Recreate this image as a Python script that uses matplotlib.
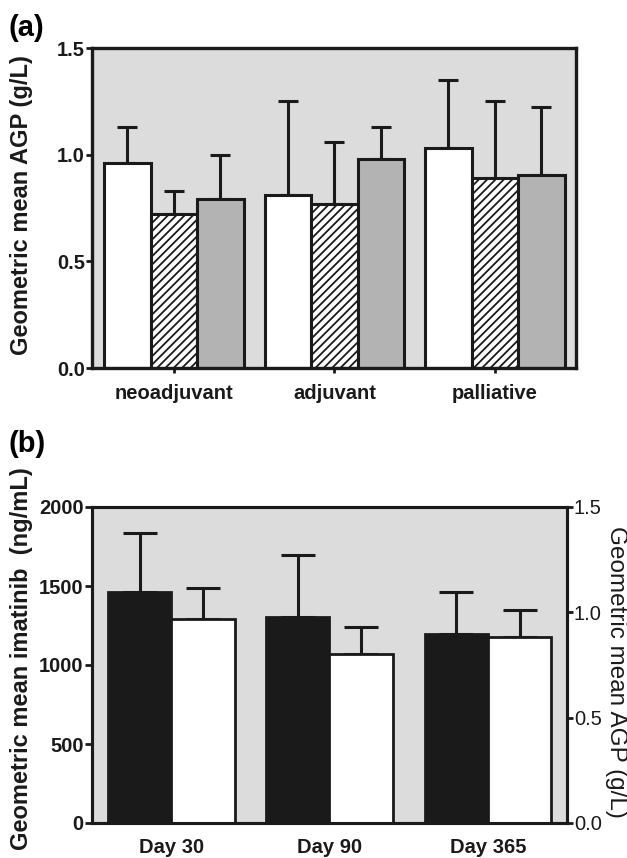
import numpy as np
import matplotlib
matplotlib.use("Agg")
import matplotlib.pyplot as plt

plt.rcParams['font.family'] = ['Liberation Sans', 'DejaVu Sans']
plt.rcParams['hatch.linewidth'] = 1.3

# panel (a): geometric mean AGP by treatment setting, three groups per setting
regimens = ['neoadjuvant', 'adjuvant', 'palliative']
agp_open = [0.96, 0.81, 1.03]
agp_open_err = [0.17, 0.44, 0.32]
agp_hatched = [0.72, 0.77, 0.89]
agp_hatched_err = [0.11, 0.29, 0.36]
agp_grey = [0.79, 0.98, 0.905]
agp_grey_err = [0.21, 0.15, 0.32]
a_ticks = [0.0, 0.5, 1.0, 1.5]

# panel (b): imatinib (left axis) and AGP (right axis) over time
days = ['Day 30', 'Day 90', 'Day 365']
imatinib = [1460, 1306, 1194]
imatinib_err = [374, 390, 270]
agp_time = [0.968, 0.801, 0.881]
agp_time_err = [0.149, 0.131, 0.130]
b_left_ticks = [0, 500, 1000, 1500, 2000]
b_right_ticks = [0.0, 0.5, 1.0, 1.5]

BG = '#dcdcdc'
DARK = '#1a1a1a'

fig = plt.figure(figsize=(6.27, 8.58), dpi=100)

# ---------------- (a)
ax = fig.add_axes([92 / 627, 1 - 368 / 858, 484 / 627, 320 / 858])
ax.set_facecolor(BG)
x = np.arange(len(regimens))
w = 0.29
series = [(agp_open, agp_open_err, 'white', None),
          (agp_hatched, agp_hatched_err, 'white', '////'),
          (agp_grey, agp_grey_err, '#b3b3b3', None)]
for i, (vals, errs, fc, hatch) in enumerate(series):
    pos = x + (i - 1) * w
    ax.errorbar(pos, vals, yerr=[np.zeros(len(vals)), errs], fmt='none',
                ecolor=DARK, elinewidth=2.2, capsize=7.5, capthick=2.2, zorder=1)
    ax.bar(pos, vals, width=w, color=fc, edgecolor=DARK, linewidth=2.2,
           hatch=hatch, zorder=2)

ax.set_xlim(-0.51, 2.505)
ax.set_ylim(0, 1.5)
ax.set_yticks(a_ticks)
ax.set_yticklabels([f'{t:.1f}' for t in a_ticks])
ax.set_xticks(x)
ax.set_xticklabels(regimens)
for s in ax.spines.values():
    s.set_linewidth(2.4)
    s.set_color(DARK)
ax.tick_params(axis='y', length=4, width=2, pad=1, labelsize=14.5, colors=DARK)
ax.tick_params(axis='x', length=3.5, width=2, pad=8, labelsize=14.5, colors=DARK)
for lab in ax.get_xticklabels() + ax.get_yticklabels():
    lab.set_fontweight('bold')
ax.set_ylabel('Geometric mean AGP (g/L)', fontsize=17, fontweight='bold', color=DARK)
ax.yaxis.set_label_coords(-0.122, 0.51)

# ---------------- (b)
bx = fig.add_axes([92 / 627, 1 - 823 / 858, 475 / 627, 316 / 858])
bx.set_facecolor(BG)
bx2 = bx.twinx()
xb = np.arange(len(days))
wb = 0.4
bx.errorbar(xb - 0.2, imatinib, yerr=[np.zeros(3), imatinib_err], fmt='none',
            ecolor=DARK, elinewidth=2.2, capsize=12.5, capthick=2.2, zorder=1)
bx.bar(xb - 0.2, imatinib, width=wb, color=DARK, edgecolor=DARK, linewidth=2, zorder=2)
bx2.errorbar(xb + 0.2, agp_time, yerr=[np.zeros(3), agp_time_err], fmt='none',
             ecolor=DARK, elinewidth=2.2, capsize=12.5, capthick=2.2, zorder=1)
bx2.bar(xb + 0.2, agp_time, width=wb, color='white', edgecolor=DARK, linewidth=2, zorder=2)

bx.set_xlim(-0.5, 2.5)
bx.set_ylim(0, 2000)
bx2.set_ylim(0, 1.5)
bx.set_yticks(b_left_ticks)
bx2.set_yticks(b_right_ticks)
bx2.set_yticklabels([f'{t:.1f}' for t in b_right_ticks])
bx.set_xticks(xb)
bx.set_xticklabels(days)
for a in (bx, bx2):
    for s in a.spines.values():
        s.set_linewidth(2.2)
        s.set_color(DARK)
bx.tick_params(axis='y', length=5, width=2, pad=1, labelsize=14.5, colors=DARK)
bx.tick_params(axis='x', length=0, pad=11, labelsize=14.5, colors=DARK)
bx2.tick_params(axis='y', length=4, width=2, pad=1, labelsize=14.5, colors=DARK)
for lab in bx.get_xticklabels() + bx.get_yticklabels():
    lab.set_fontweight('bold')
bx.set_ylabel('Geometric mean imatinib  (ng/mL)', fontsize=17, fontweight='bold', color=DARK)
bx.yaxis.set_label_coords(-0.124, 0.52)
bx2.set_ylabel('Geometric mean AGP (g/L)', fontsize=17.5, color=DARK,
               rotation=270, va='bottom')
bx2.yaxis.set_label_coords(1.08, 0.478)

fig.text(8 / 627, 1 - 28 / 858, '(a)', fontsize=21, fontweight='bold', ha='left', va='center')
fig.text(8 / 627, 1 - 444 / 858, '(b)', fontsize=21, fontweight='bold', ha='left', va='center')

fig.savefig('out.png', dpi=100)
